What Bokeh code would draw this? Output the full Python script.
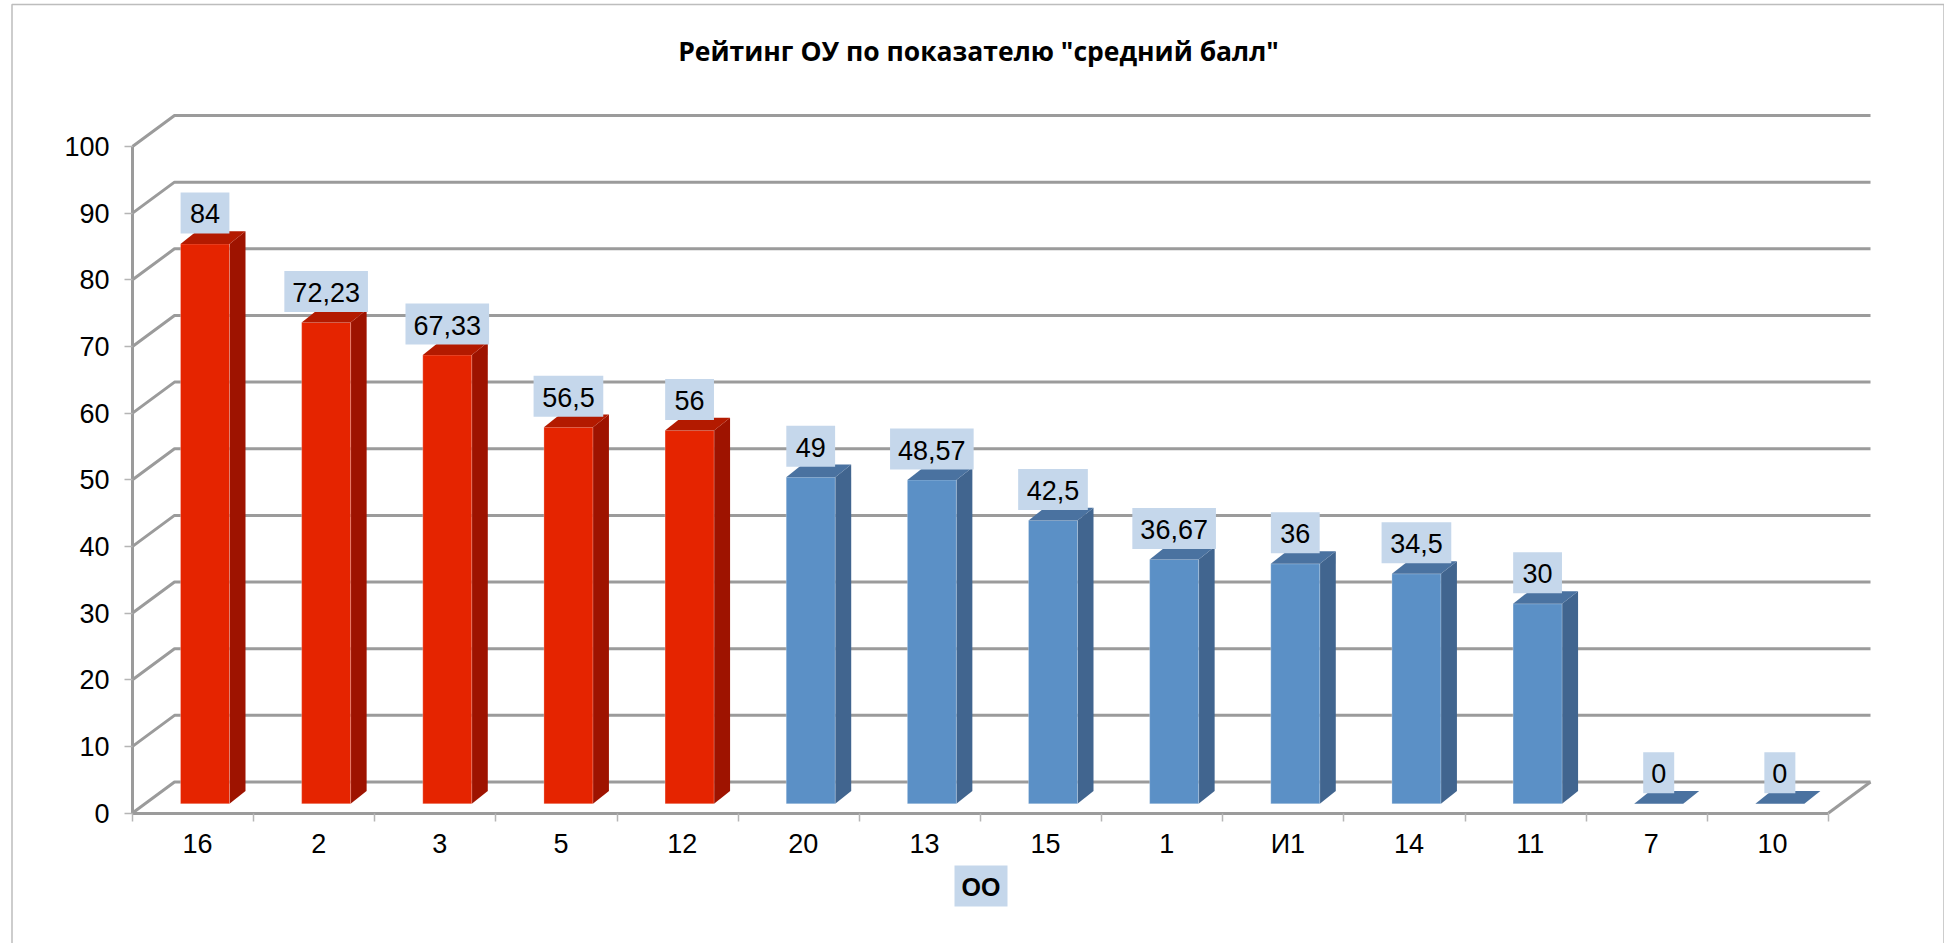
from bokeh.plotting import figure
from bokeh.models import LinearAxis, FixedTicker, Range1d, Label, ColumnDataSource
from bokeh.core.properties import value
from bokeh.embed import file_html
from bokeh.resources import INLINE

TITLE = 'Рейтинг ОУ по показателю "средний балл"'
X_TITLE = "ОО"
categories = ["16", "2", "3", "5", "12", "20", "13", "15", "1", "И1", "14", "11", "7", "10"]
values = [84, 72.23, 67.33, 56.5, 56, 49, 48.57, 42.5, 36.67, 36, 34.5, 30, 0, 0]
value_labels = ["84", "72,23", "67,33", "56,5", "56", "49", "48,57", "42,5", "36,67", "36", "34,5", "30", "0", "0"]
red_count = 5
y_ticks = list(range(0, 101, 10))

RED = ("#e52400", "#9e1300", "#b31a00")
BLUE = ("#5b90c6", "#41658f", "#4a72a0")
GRID = "#9b9b9b"
LABEL_BG = "#c5d7eb"
FONT = "Liberation Sans"

# page pixels -> data units
W, H = 1944, 943
PAGE_X, PAGE_Y = 0, 0
AX_X0, AX_X1 = 132.0, 1828.0
AX_Y0, AX_Y100 = 812.5, 146.0
UX = (AX_X1 - AX_X0) / len(categories)
UY = (AX_Y0 - AX_Y100) / 100


def dx(px):
    return px / UX


def dy(px):
    return px / UY


def X(px):
    return (px - AX_X0) / UX


def Y(py):
    return (AX_Y0 - py) / UY


p = figure(width=W, height=H, output_backend="svg", toolbar_location=None,
           x_range=Range1d(X(PAGE_X), X(PAGE_X + W)), y_range=Range1d(Y(PAGE_Y + H), Y(PAGE_Y)),
           min_border=0, min_border_left=0, min_border_right=0, min_border_top=0, min_border_bottom=0,
           x_axis_type=None, y_axis_type=None, outline_line_color=None, background_fill_color="white")
p.grid.visible = False

# chart area border
bx = [X(11.5), X(11.5), X(1943.5), X(1943.5)]
by = [Y(943), Y(4), Y(4), Y(943)]
p.line(bx, by, line_color="#bdbdbd", line_width=1.5)

# walls: gridlines run along the back wall and come forward along the side wall
WALL_X, WALL_Y = dx(42), dy(31)
n = len(categories)
for t in y_ticks:
    p.line([0, WALL_X, n + WALL_X], [t, t + WALL_Y, t + WALL_Y], line_color=GRID, line_width=3)
p.line([n, n + WALL_X], [0, WALL_Y], line_color=GRID, line_width=3)

# axes
ya = LinearAxis(ticker=FixedTicker(ticks=y_ticks), bounds=(0, 100), fixed_location=0)
ya.axis_line_color = GRID
ya.axis_line_width = 3
ya.major_tick_line_color = "#b5b5b5"
ya.major_tick_line_width = 1.5
ya.major_tick_out = 8
ya.major_tick_in = 0
ya.minor_tick_line_color = None
ya.major_label_text_font = FONT
ya.major_label_text_font_size = "27px"
ya.major_label_text_color = "black"
ya.major_label_standoff = 15
p.add_layout(ya, "left")

xa = LinearAxis(ticker=FixedTicker(ticks=list(range(n + 1))), bounds=(0, n), fixed_location=0)
xa.axis_line_color = GRID
xa.axis_line_width = 3
xa.major_tick_line_color = "#b5b5b5"
xa.major_tick_line_width = 1.5
xa.major_tick_out = 8
xa.major_tick_in = 0
xa.minor_tick_line_color = None
xa.major_label_text_font_size = "0px"
xa.major_label_text_color = None
p.add_layout(xa, "below")

# category labels sit a touch right of the category middle
LABEL_SHIFT = dx(4.5)
label_ticks = [i + 0.5 + LABEL_SHIFT for i in range(n)]
xl = LinearAxis(ticker=FixedTicker(ticks=label_ticks), fixed_location=0,
                major_label_overrides=dict(zip(label_ticks, categories)))
xl.axis_line_color = None
xl.major_tick_line_color = None
xl.minor_tick_line_color = None
xl.major_label_text_font = FONT
xl.major_label_text_font_size = "27px"
xl.major_label_text_color = "black"
xl.major_label_standoff = 10
p.add_layout(xl, "below")

# 3-D bars
BAR_OFF = dx(48)
BAR_W = dx(49)
BASE = dy(9.2)
DEPTH_X, DEPTH_Y = dx(16), dy(12.7)

for i, v in enumerate(values):
    front, side, top = RED if i < red_count else BLUE
    l = i + BAR_OFF
    r = l + BAR_W
    t = BASE + v
    if v > 0:
        p.patch([r, r + DEPTH_X, r + DEPTH_X, r], [BASE, BASE + DEPTH_Y, t + DEPTH_Y, t], fill_color=side, line_color=None)
        p.quad(left=[l], right=[r], bottom=[BASE], top=[t], fill_color=front,
               line_color="white", line_alpha=0.25, line_width=1)
    p.patch([l, r, r + DEPTH_X, l + DEPTH_X], [t, t, t + DEPTH_Y, t + DEPTH_Y], fill_color=top, line_color=None)

# value labels
centers = [i + BAR_OFF + BAR_W / 2 for i in range(n)]
widths = []
for s in value_labels:
    digits = sum(c.isdigit() for c in s)
    widths.append(31 if digits == 1 else 13.9 * digits + 7 * s.count(",") + 21)
src = ColumnDataSource(dict(
    x=centers,
    y=[BASE + v + dy(31) for v in values],
    w=widths,
    t=value_labels,
))
p.rect(x="x", y="y", width="w", width_units="screen", height=41, height_units="screen",
       source=src, fill_color=LABEL_BG, line_color=None)
p.text(x="x", y="y", text="t", source=src, text_align="center", text_baseline="middle",
       text_font=value(FONT), text_font_size="27px", text_color="black", y_offset=1)

# titles
p.add_layout(Label(x=X(978), y=Y(50), text=TITLE, text_align="center", text_baseline="middle",
                   text_font="Open Sans", text_font_style="bold", text_font_size="26.5px", text_color="black"))
p.rect(x=[X(980.5)], y=[Y(885.5)], width=[53], width_units="screen", height=[41], height_units="screen",
       fill_color=LABEL_BG, line_color=None)
p.add_layout(Label(x=X(980.5), y=Y(886), text=X_TITLE, text_align="center", text_baseline="middle",
                   text_font=FONT, text_font_style="bold", text_font_size="25px", text_color="black"))

open("out.html", "w").write(file_html(p, INLINE))
